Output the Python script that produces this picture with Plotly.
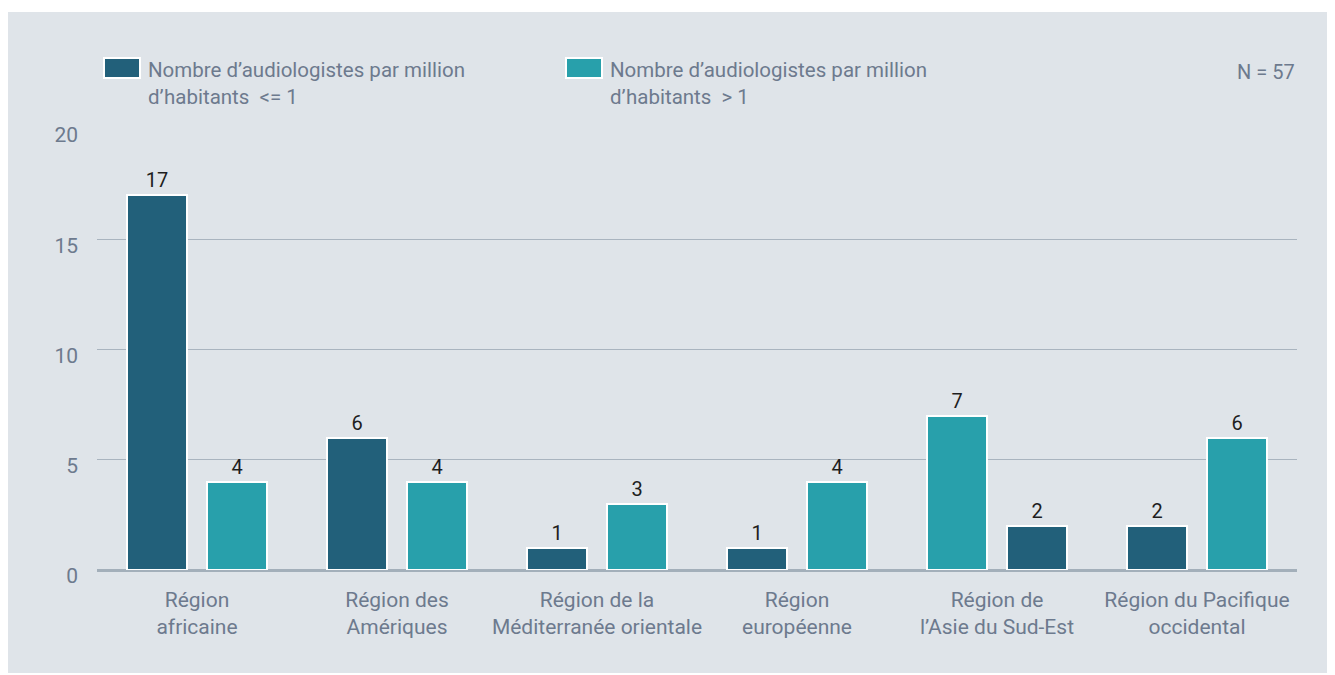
import plotly.graph_objects as go

categories = ["Région<br>africaine", "Région des<br>Amériques", "Région de la<br>Méditerranée orientale",
              "Région<br>européenne", "Région de<br>l’Asie du Sud-Est", "Région du Pacifique<br>occidental"]
low_values = [17, 6, 1, 1, 2, 2]     # <= 1 audiologist per million
high_values = [4, 4, 3, 4, 7, 6]     # > 1 audiologist per million
low_name = "Nombre d’audiologistes par million<br>d’habitants  <= 1"
high_name = "Nombre d’audiologistes par million<br>d’habitants  > 1"
y_ticks = [0, 5, 10, 15, 20]

DARK = "#22607a"
TEAL = "#28a0ab"
BG = "#dfe4e9"
TXT = "#6d7a8e"
FONT = "Roboto, Liberation Sans, sans-serif"

x = list(range(len(categories)))
# bar placement within each group (the South-East Asia group is drawn swapped in the original)
low_offset = [-0.35, -0.35, -0.35, -0.35, 0.05, -0.35]
high_offset = [0.05, 0.05, 0.05, 0.05, -0.35, 0.05]

fig = go.Figure()
fig.add_trace(go.Bar(x=x, y=low_values, name=low_name, width=0.3, offset=low_offset,
                     marker=dict(color=DARK, line=dict(color="white", width=2)),
                     text=low_values, textposition="outside",
                     textfont=dict(family=FONT, size=20, color="#1e1e1e"),
                     cliponaxis=False, showlegend=False))
fig.add_trace(go.Bar(x=x, y=high_values, name=high_name, width=0.3, offset=high_offset,
                     marker=dict(color=TEAL, line=dict(color="white", width=2)),
                     text=high_values, textposition="outside",
                     textfont=dict(family=FONT, size=20, color="#1e1e1e"),
                     cliponaxis=False, showlegend=False))

OFF = 8  # page body margin
W, H = 1335 - OFF, 675 - OFF
L, T = 97 - OFF, 129 - OFF
R = W - (1297 - OFF)
B = H - (570 - OFF)
pw, ph = W - L - R, H - T - B
def px(v): return (v - OFF - L) / pw
def py(v): return (H - B - (v - OFF)) / ph

shapes = [
    dict(type="rect", xref="paper", yref="paper", x0=px(0), x1=px(1340), y0=py(673), y1=py(12),
         fillcolor=BG, line=dict(width=0), layer="below"),
    dict(type="rect", xref="paper", yref="paper", x0=px(104), x1=px(140), y0=py(78), y1=py(58),
         fillcolor=DARK, line=dict(color="white", width=2)),
    dict(type="rect", xref="paper", yref="paper", x0=px(566), x1=px(602), y0=py(78), y1=py(58),
         fillcolor=TEAL, line=dict(color="white", width=2)),
]
annotations = [
    dict(xref="paper", yref="paper", x=px(146), y=py(56), xanchor="left", yanchor="top",
         text=low_name, showarrow=False, align="left", font=dict(family=FONT, size=20.5, color=TXT)),
    dict(xref="paper", yref="paper", x=px(608), y=py(56), xanchor="left", yanchor="top",
         text=high_name, showarrow=False, align="left", font=dict(family=FONT, size=20.5, color=TXT)),
    dict(xref="paper", yref="paper", x=px(1297), y=py(72), xanchor="right", yanchor="middle",
         text="N = 57", showarrow=False, font=dict(family=FONT, size=20, color=TXT)),
]

fig.update_layout(
    width=W, height=H, margin=dict(l=L, r=R, t=T, b=B),
    paper_bgcolor="white", plot_bgcolor=BG,
    shapes=shapes, annotations=annotations,
    font=dict(family=FONT, color=TXT),
    bargap=0,
)
fig.update_xaxes(range=[-0.5, 5.5], tickvals=x, ticktext=categories, showgrid=False,
                 showline=False, ticks="", zeroline=False, tickfont=dict(family=FONT, size=21, color=TXT),
                 ticklabelstandoff=15, fixedrange=True)
fig.update_yaxes(range=[0, 20], tickvals=y_ticks, showgrid=True, gridcolor="#a9b4bf", gridwidth=1,
                 zeroline=True, zerolinecolor="#a3afba", zerolinewidth=3, showline=False, ticks="",
                 tickfont=dict(family=FONT, size=21, color=TXT), ticklabelstandoff=18,
                 ticklabelshift=6, fixedrange=True)

fig.write_html("out.html")
